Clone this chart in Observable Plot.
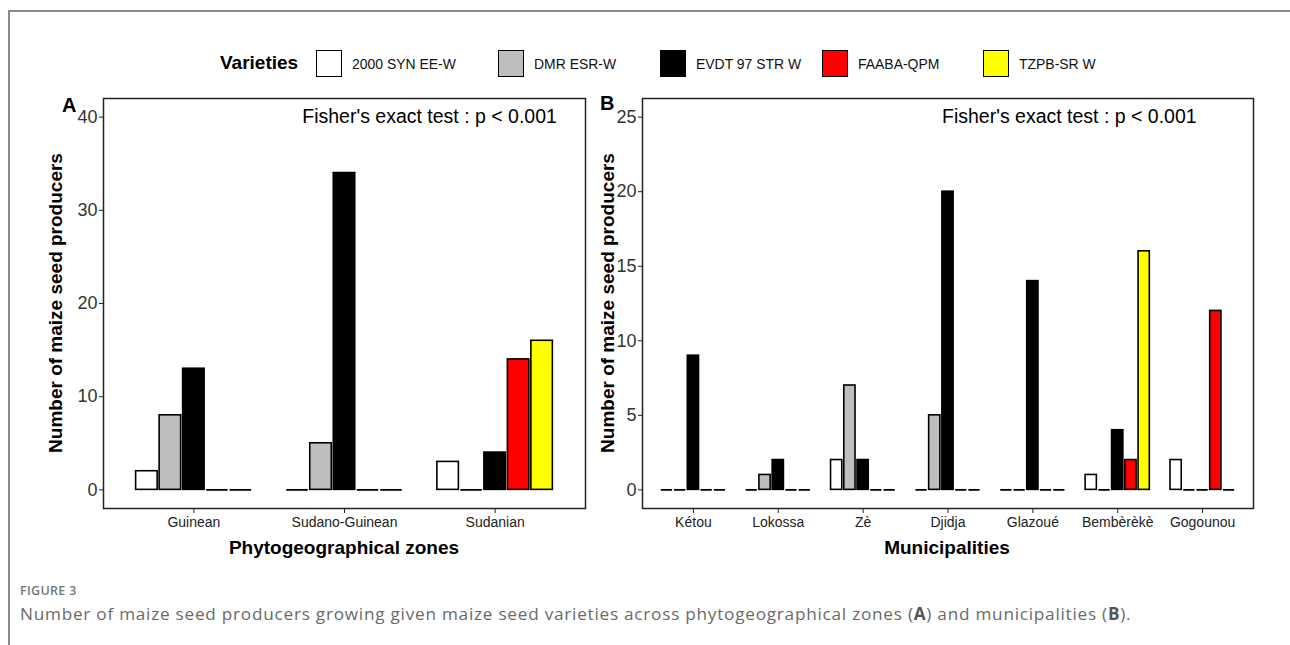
<!DOCTYPE html>
<html>
<head>
<meta charset="utf-8">
<script src="https://cdn.jsdelivr.net/npm/d3@7"></script>
<script src="https://cdn.jsdelivr.net/npm/@observablehq/plot@0.6"></script>
<style>
  body { margin: 0; background: #fff; }
  #root { position: relative; width: 1290px; height: 645px; overflow: hidden; font-family: "Liberation Sans", Arial, sans-serif; }
  .abs { position: absolute; }
  #outer { left: 8px; top: 10px; width: 1290px; height: 640px; border-left: 2px solid #8a8a8a; border-top: 2px solid #8a8a8a; }
  .panel svg { overflow: visible; }
  .ytitle { font-weight: bold; font-size: 19px; color: #000; white-space: nowrap; transform: translate(-50%, -50%) rotate(-90deg); }
  .xtitle { font-weight: bold; font-size: 19px; color: #000; white-space: nowrap; transform: translate(-50%, -50%); }
  .tag { font-weight: bold; font-size: 20px; color: #000; }
  .lgttl { font-weight: bold; font-size: 19px; color: #000; }
  .lgsw { width: 24px; height: 25px; border: 1.5px solid #000; }
  .lglab { font-size: 15px; color: #111; white-space: nowrap; transform: scaleX(0.93); transform-origin: left center; }
  #fig { font-family: "Open Sans", sans-serif; font-size: 12.5px; font-weight: 600; color: #777; letter-spacing: 0.3px; }
  #cap { font-family: "Open Sans", sans-serif; font-size: 17.2px; color: #6a6a6a; white-space: nowrap; letter-spacing: 0.75px; }
  #cap b { color: #555; }
</style>
</head>
<body>
<div id="root">
  <div id="outer" class="abs"></div>
</div>
<script>
// ---- data ----
const varieties = ["2000 SYN EE-W", "DMR ESR-W", "EVDT 97 STR W", "FAABA-QPM", "TZPB-SR W"];
const varietyColors = ["#FFFFFF", "#BEBEBE", "#000000", "#FF0000", "#FFFF00"];

const zones = ["Guinean", "Sudano-Guinean", "Sudanian"];
const zoneValues = [
  [2, 8, 13, 0, 0],
  [0, 5, 34, 0, 0],
  [3, 0, 4, 14, 16]
];

const municipalities = ["Kétou", "Lokossa", "Zè", "Djidja", "Glazoué", "Bembèrèkè", "Gogounou"];
const municipalityValues = [
  [0, 0, 9, 0, 0],
  [0, 1, 2, 0, 0],
  [2, 7, 2, 0, 0],
  [0, 5, 20, 0, 0],
  [0, 0, 14, 0, 0],
  [1, 0, 4, 2, 16],
  [2, 0, 0, 12, 0]
];

const yTicksA = [0, 10, 20, 30, 40];
const yTicksB = [0, 5, 10, 15, 20, 25];
const fisherLabel = "Fisher's exact test : p < 0.001";

// ---- helpers ----
const groupWidth = 0.78;
const barW = groupWidth / varieties.length;

function rowsFor(cats, values) {
  const rows = [];
  cats.forEach((c, i) => values[i].forEach((v, j) => rows.push({cat: c, i, j, variety: varieties[j], value: v})));
  return rows;
}

function panel(cats, values, yTicks, yMax, fisherX, opts) {
  const rows = rowsFor(cats, values);
  const pad = yMax * 0.05;
  const x1 = d => d.i - groupWidth / 2 + d.j * barW;
  const x2 = d => d.i - groupWidth / 2 + (d.j + 1) * barW;
  const xTicks = d3.range(cats.length);
  return Plot.plot({
    width: opts.width, height: 470,
    marginLeft: opts.ml, marginRight: opts.mr, marginTop: 8, marginBottom: 52,
    style: {fontFamily: "'Liberation Sans', Arial, sans-serif", fontSize: "14px", color: "#222", background: "transparent", overflow: "visible"},
    x: {type: "linear", domain: [-0.6, cats.length - 0.4], ticks: xTicks, tickFormat: i => cats[i], tickSize: 5, tickPadding: 4, label: null},
    y: {domain: [-pad, yMax + pad], ticks: yTicks, tickFormat: () => "", tickSize: 4, label: null},
    color: {domain: varieties, range: varietyColors},
    marks: [
      Plot.text(yTicks, {y: d => d, text: d => String(d), frameAnchor: "left", dx: -6, textAnchor: "end", fontSize: 18, fill: "#333"}),
      Plot.rectY(rows.filter(d => d.value > 0), {x1, x2, y1: 0, y2: "value", fill: "variety", stroke: "#000", strokeWidth: 1.6, insetLeft: 1, insetRight: 1}),
      Plot.ruleY(rows.filter(d => d.value === 0), {y: 0, x1, x2, stroke: "#000", strokeWidth: 1.8, insetLeft: 1, insetRight: 1}),
      Plot.text([{x: fisherX, y: yMax, label: fisherLabel}], {x: "x", y: "y", text: "label", fontSize: 19.5, textAnchor: "end", fill: "#000"}),
      Plot.frame({stroke: "#222", strokeWidth: 1.5})
    ]
  });
}

const root = document.getElementById("root");
function place(el, left, top, cls) {
  const d = document.createElement("div");
  d.className = "abs " + (cls || "");
  d.style.left = left + "px"; d.style.top = top + "px";
  if (typeof el === "string") d.textContent = el; else d.appendChild(el);
  root.appendChild(d);
  return d;
}

// Panel A
place(panel(zones, zoneValues, yTicksA, 40, 2.41, {width: 550, ml: 63, mr: 5}), 40, 90, "panel");
// Panel B
place(panel(municipalities, municipalityValues, yTicksB, 25, 5.93, {width: 680, ml: 62, mr: 7}), 580, 90, "panel");

// axis titles and panel tags
place("Number of maize seed producers", 56, 303, "ytitle");
place("Number of maize seed producers", 608, 303, "ytitle");
place("Phytogeographical zones", 344, 548, "xtitle");
place("Municipalities", 947, 548, "xtitle");
place("A", 62, 94, "tag");
place("B", 600, 92, "tag");

// legend (HTML, drawn from the same variety arrays)
const legendX = [316, 498, 660, 822, 983];
place("Varieties", 220, 52, "lgttl");
varieties.forEach((v, k) => {
  const sw = place("", legendX[k], 50, "lgsw");
  sw.style.background = varietyColors[k];
  place(v, legendX[k] + 36, 55, "lglab");
});

// caption
place("FIGURE 3", 20, 582).id = "fig";
const cap = place("", 20, 602);
cap.id = "cap";
cap.innerHTML = "Number of maize seed producers growing given maize seed varieties across phytogeographical zones (<b>A</b>) and municipalities (<b>B</b>).";
</script>
</body>
</html>
